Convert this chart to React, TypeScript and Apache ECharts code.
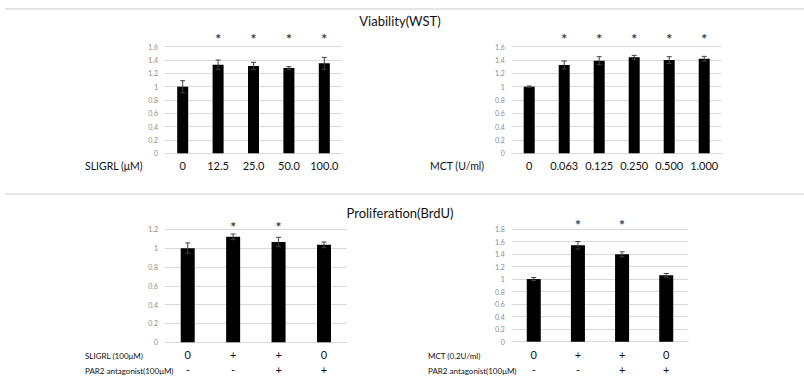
import React, { useEffect, useRef } from "react";
import * as echarts from "echarts";

const wstSligrlCats = ["0", "12.5", "25.0", "50.0", "100.0"];
const wstSligrlVals = [1.0, 1.33, 1.31, 1.28, 1.35];
const wstSligrlErr = [0.09, 0.07, 0.055, 0.02, 0.09];
const wstSligrlSig = [0, 1, 1, 1, 1];

const wstMctCats = ["0", "0.063", "0.125", "0.250", "0.500", "1.000"];
const wstMctVals = [1.0, 1.325, 1.39, 1.44, 1.4, 1.42];
const wstMctErr = [0.01, 0.06, 0.06, 0.03, 0.05, 0.035];
const wstMctSig = [0, 1, 1, 1, 1, 1];

const brduSligrlRow1 = ["0", "+", "+", "0"];
const brduSligrlRow2 = ["-", "-", "+", "+"];
const brduSligrlVals = [1.0, 1.12, 1.065, 1.035];
const brduSligrlErr = [0.055, 0.03, 0.05, 0.03];
const brduSligrlSig = [0, 1, 1, 0];

const brduMctRow1 = ["0", "+", "+", "0"];
const brduMctRow2 = ["-", "-", "+", "+"];
const brduMctVals = [1.0, 1.54, 1.395, 1.06];
const brduMctErr = [0.025, 0.06, 0.04, 0.03];
const brduMctSig = [0, 1, 1, 0];

const FONT = "Lato, 'Open Sans', sans-serif";

export default function App() {
  const ref = useRef<HTMLDivElement>(null);
  useEffect(() => {
    document.body.style.margin = "0";
    const chart = echarts.init(ref.current!, undefined, { renderer: "svg" });

    const grids = [
      { left: 165, top: 46.7, width: 177, height: 106.6 },
      { left: 511.7, top: 46.7, width: 210, height: 106.6 },
      { left: 165, top: 229.3, width: 181.7, height: 113 },
      { left: 511.7, top: 229, width: 176.6, height: 112.7 },
    ];

    const cats = [wstSligrlCats, wstMctCats, brduSligrlRow1, brduMctRow1];
    const vals = [wstSligrlVals, wstMctVals, brduSligrlVals, brduMctVals];
    const errs = [wstSligrlErr, wstMctErr, brduSligrlErr, brduMctErr];
    const sigs = [wstSligrlSig, wstMctSig, brduSligrlSig, brduMctSig];
    const maxes = [1.6, 1.6, 1.2, 1.8];
    const starLevels = [1.76, 1.76, 1.25, 1.9];
    const barWidths = [11, 11, 14, 14];

    const labelStyle = {
      color: "#111",
      fontSize: 11,
      fontFamily: FONT,
      margin: 7,
      interval: 0,
    };

    const xAxis: any[] = cats.map((c, i) => ({
      type: "category",
      gridIndex: i,
      data: c,
      position: "bottom",
      axisTick: { show: false },
      axisLine: { lineStyle: { color: "#d9d9d9" } },
      axisLabel: labelStyle,
    }));
    // second label rows for the proliferation charts
    [brduSligrlRow2, brduMctRow2].forEach((r, j) => {
      xAxis.push({
        type: "category",
        gridIndex: 2 + j,
        data: r,
        position: "bottom",
        offset: 15,
        axisTick: { show: false },
        axisLine: { show: false },
        splitLine: { show: false },
        axisLabel: labelStyle,
      });
    });

    const yAxis = maxes.map((m, i) => ({
      type: "value",
      gridIndex: i,
      min: 0,
      max: m,
      interval: 0.2,
      axisLine: { show: false },
      axisTick: { show: false },
      splitLine: { lineStyle: { color: "#d9d9d9" } },
      axisLabel: {
        color: "#8c8c8c",
        fontSize: 7,
        fontFamily: FONT,
        margin: 7,
        formatter: (v: number) => String(Math.round(v * 10) / 10),
      },
    }));

    const series: any[] = [];
    vals.forEach((v, i) => {
      series.push({
        type: "bar",
        xAxisIndex: i,
        yAxisIndex: i,
        data: v,
        barWidth: barWidths[i],
        itemStyle: { color: "#000" },
      });
      series.push({
        type: "custom",
        xAxisIndex: i,
        yAxisIndex: i,
        z: 5,
        data: v.map((val, k) => [k, val, errs[i][k]]),
        renderItem: (params: any, api: any) => {
          const x = api.value(0);
          const val = api.value(1);
          const e = api.value(2);
          const top = api.coord([x, val + e]);
          const bot = api.coord([x, val - e]);
          const hw = 2.5;
          const st = { stroke: "#404040", lineWidth: 1 };
          return {
            type: "group",
            children: [
              { type: "line", shape: { x1: top[0], y1: top[1], x2: bot[0], y2: bot[1] }, style: st },
              { type: "line", shape: { x1: top[0] - hw, y1: top[1], x2: top[0] + hw, y2: top[1] }, style: st },
              { type: "line", shape: { x1: bot[0] - hw, y1: bot[1], x2: bot[0] + hw, y2: bot[1] }, style: st },
            ],
          };
        },
      });
      series.push({
        type: "custom",
        xAxisIndex: i,
        yAxisIndex: i,
        z: 6,
        clip: false,
        data: sigs[i]
          .map((s, k) => (s ? [k, starLevels[i]] : null))
          .filter((d) => d !== null),
        renderItem: (params: any, api: any) => {
          const p = api.coord([api.value(0), api.value(1)]);
          return {
            type: "text",
            x: p[0],
            y: p[1] + 2,
            style: {
              text: "*",
              fill: "#3a3a3a",
              fontSize: 14,
              fontWeight: "bold",
              fontFamily: FONT,
              align: "center",
              verticalAlign: "middle",
            },
          };
        },
      });
    });

    const txt = (text: string, x: number, y: number, size = 10.5, align = "left") => ({
      type: "text",
      x,
      y,
      style: {
        text,
        fill: "#111",
        fontSize: size,
        fontFamily: FONT,
        align,
        verticalAlign: "middle",
      },
    });

    chart.setOption({
      animation: false,
      backgroundColor: "#fff",
      grid: grids,
      xAxis,
      yAxis,
      series,
      graphic: [
        { type: "line", shape: { x1: 5, y1: 9, x2: 804, y2: 9 }, style: { stroke: "#dcdcdc", lineWidth: 1.5 } },
        { type: "line", shape: { x1: 5, y1: 194, x2: 804, y2: 194 }, style: { stroke: "#dcdcdc", lineWidth: 1.5 } },
        txt("Viability(WST)", 400, 21, 13, "center"),
        txt("Proliferation(BrdU)", 400, 213, 13, "center"),
        txt("SLIGRL (μM)", 85, 165.5),
        txt("MCT (U/ml)", 430, 165.5),
        txt("SLIGRL (100μM)", 85, 356, 8),
        txt("PAR2 antagonist(100μM)", 85, 371, 8),
        txt("MCT (0.2U/ml)", 428, 356, 8),
        txt("PAR2 antagonist(100μM)", 428, 371, 8),
      ],
    });
    return () => chart.dispose();
  }, []);
  return <div ref={ref} style={{ width: 804, height: 380 }} />;
}
